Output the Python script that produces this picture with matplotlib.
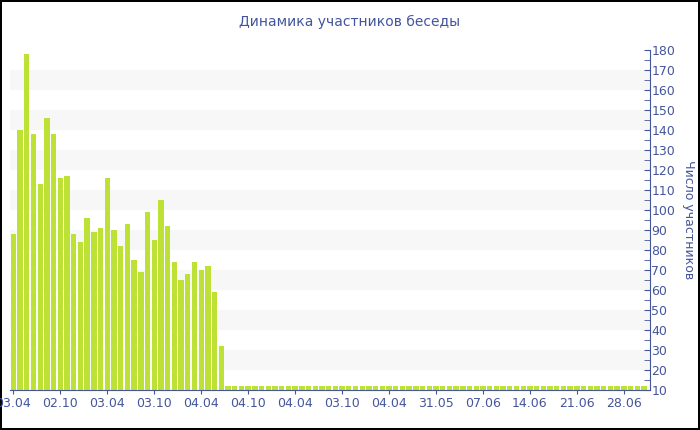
import numpy as np
import matplotlib.pyplot as plt

# bar heights (one bar per period)
values = [88, 140, 178, 138, 113, 146, 138, 116, 117, 88, 84, 96, 89, 91, 116,
          90, 82, 93, 75, 69, 99, 85, 105, 92, 74, 65, 68, 74, 70, 72, 59, 32]
values = values + [12] * (95 - len(values))

tick_labels = ['03.04', '02.10', '03.04', '03.10', '04.04', '04.10', '04.04',
               '03.10', '04.04', '31.05', '07.06', '14.06', '21.06', '28.06']

blue = '#44559c'
green = '#bde134'

fig = plt.figure(figsize=(7, 4.3), dpi=100)
fig.patch.set_edgecolor('black')
fig.patch.set_linewidth(1.5)
ax = fig.add_axes([10 / 700, 40 / 430, 640 / 700, 340 / 430])

x = np.arange(len(values))
ax.bar(x, values, width=0.8, color=green, zorder=2)

# alternating background bands
for lo in range(20, 180, 20):
    ax.axhspan(lo, lo + 10, color='#f7f7f7', zorder=0, lw=0)

ax.set_xlim(-0.5, 94.9)
ax.set_ylim(10, 180)

ax.set_xticks(x[::7][:len(tick_labels)])
ax.set_xticklabels(tick_labels)
ax.set_yticks(np.arange(10, 181, 10))
ax.set_yticks(np.arange(15, 180, 10), minor=True)

ax.yaxis.tick_right()
ax.yaxis.set_label_position('right')
ax.tick_params(axis='y', which='both', direction='in', length=4, color=blue,
               labelcolor=blue, labelsize=9, pad=1)
ax.tick_params(axis='x', direction='out', length=3, color=blue,
               labelcolor=blue, labelsize=9, pad=2)

for s in ['top', 'left']:
    ax.spines[s].set_visible(False)
for s in ['bottom', 'right']:
    ax.spines[s].set_color(blue)

ax.set_ylabel('Число участников', color=blue, fontsize=9, rotation=270,
              labelpad=14)
fig.text(0.5, 1 - 22 / 430, 'Динамика участников беседы', color=blue,
         fontsize=10, ha='center', va='center')

fig.savefig('out.png', dpi=100, edgecolor=fig.get_edgecolor())
